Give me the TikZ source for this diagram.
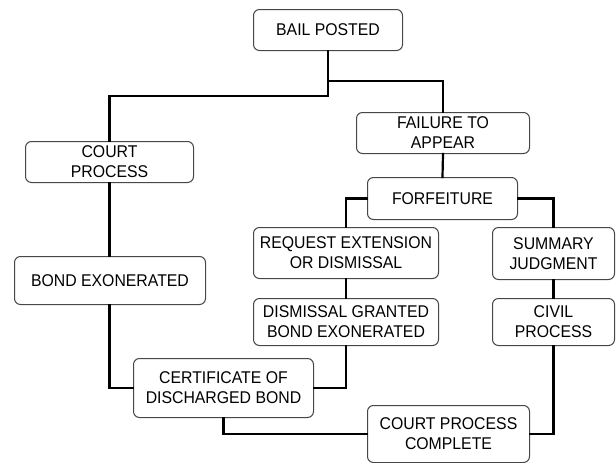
\documentclass[tikz,border=0pt]{standalone}
\usepackage{fontspec}
\setmainfont{Liberation Sans}[FakeStretch=0.93]
\begin{document}
\begin{tikzpicture}[x=1pt,y=-1pt,
  box/.style={draw=black!72,line width=1pt,rounded corners=6pt,fill=white,
    inner sep=0pt,align=center,font=\fontsize{17}{20}\selectfont,anchor=north west},
  link/.style={line width=2.2pt,black,line cap=rect}]
\useasboundingbox (0,0) rectangle (616,463);
% nodes: positioned by top-left corner
\node[box,minimum width=149pt,minimum height=41pt] (bail) at (253,9) {BAIL POSTED};
\node[box,minimum width=173pt,minimum height=41pt] (fail) at (356,112) {FAILURE TO\\APPEAR};
\node[box,minimum width=168pt,minimum height=41pt] (court) at (25,141) {COURT\\PROCESS};
\node[box,minimum width=150pt,minimum height=42pt] (forf) at (367,177) {FORFEITURE};
\node[box,minimum width=185pt,minimum height=51pt] (req) at (253,227) {REQUEST EXTENSION\\OR DISMISSAL};
\node[box,minimum width=122pt,minimum height=52pt] (summ) at (492,227) {SUMMARY\\JUDGMENT};
\node[box,minimum width=191pt,minimum height=48pt] (bond) at (14,256) {BOND EXONERATED};
\node[box,minimum width=185pt,minimum height=47pt] (dis) at (253,298) {DISMISSAL GRANTED\\BOND EXONERATED};
\node[box,minimum width=122pt,minimum height=47pt] (civ) at (492,298) {CIVIL\\PROCESS};
\node[box,minimum width=180pt,minimum height=59pt] (cert) at (133,358) {CERTIFICATE OF\\DISCHARGED BOND};
\node[box,minimum width=162pt,minimum height=57pt] (comp) at (367,405) {COURT PROCESS\\COMPLETE};
% connectors
\draw[link] (bail.south) -- ++(0,45) -| (court.north);
\draw[link] (bail.south) ++(0,30) -| (fail.north);
\draw[link] (fail.south) -- (forf.north);
\draw[link] (forf.west) -| (req.north);
\draw[link] (forf.east) -| (summ.north);
\draw[link] (req.south) -- (dis.north);
\draw[link] (summ.south) -- (civ.north);
\draw[link] (court.south) -- (court.south |- bond.north);
\draw[link] (court.south |- bond.south) |- (cert.west);
\draw[link] (dis.south) |- (cert.east);
\draw[link] (civ.south) |- (comp.east);
\draw[link] (cert.south) |- (comp.west);
\end{tikzpicture}
\end{document}
